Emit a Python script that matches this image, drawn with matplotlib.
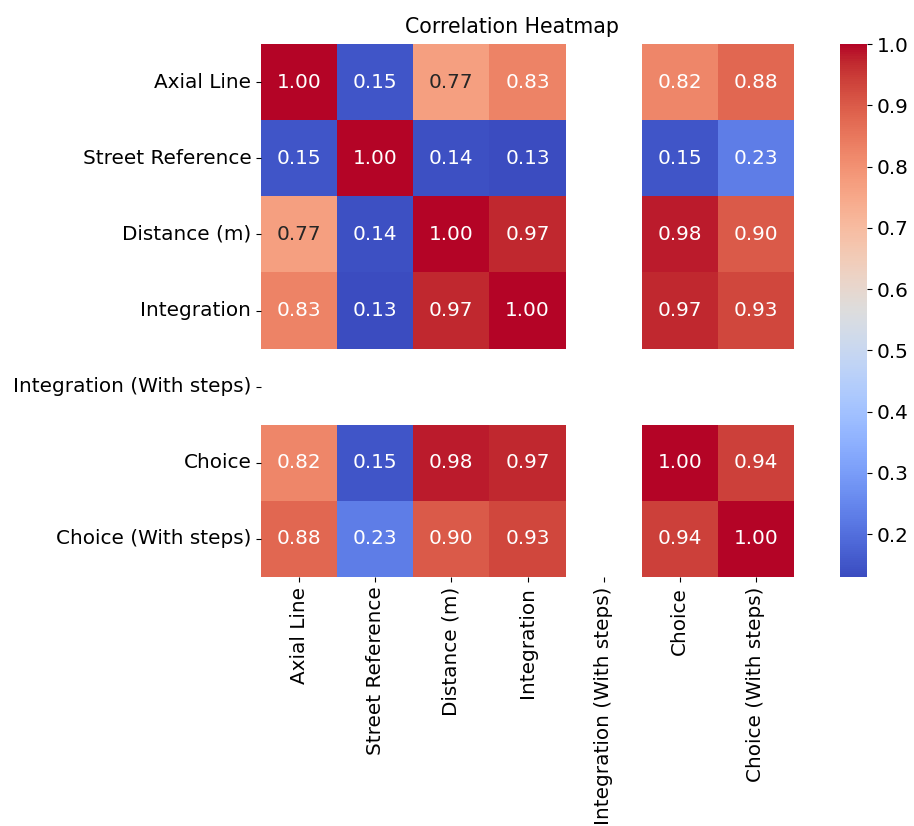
import numpy as np
import pandas as pd
import matplotlib
matplotlib.use("Agg")
import matplotlib.pyplot as plt
import seaborn as sns

labels = ["Axial Line", "Street Reference", "Distance (m)", "Integration",
          "Integration (With steps)", "Choice", "Choice (With steps)"]

nan = np.nan
axial = [1.00, 0.15, 0.77, 0.83, nan, 0.82, 0.88]
street = [0.15, 1.00, 0.14, 0.13, nan, 0.15, 0.23]
distance = [0.77, 0.14, 1.00, 0.97, nan, 0.98, 0.90]
integration = [0.83, 0.13, 0.97, 1.00, nan, 0.97, 0.93]
integration_steps = [nan, nan, nan, nan, nan, nan, nan]
choice = [0.82, 0.15, 0.98, 0.97, nan, 1.00, 0.94]
choice_steps = [0.88, 0.23, 0.90, 0.93, nan, 0.94, 1.00]

corr = pd.DataFrame(
    [axial, street, distance, integration, integration_steps, choice, choice_steps],
    index=labels, columns=labels,
)

fs = 14.4

fig = plt.figure(figsize=(9.14, 8.26), dpi=100)
W, H = 914, 826
ax = fig.add_axes([261 / W, 1 - 577 / H, (794 - 261) / W, (577 - 44) / H])
cax = fig.add_axes([840 / W, 1 - 577 / H, 27 / W, (577 - 44) / H])

sns.heatmap(corr, annot=True, fmt=".2f", cmap="coolwarm", ax=ax, cbar_ax=cax,
            annot_kws={"fontsize": fs})

ax.set_title("Correlation Heatmap", fontsize=14.8, x=(512 - 261) / (794 - 261), pad=8)
ax.tick_params(axis="both", labelsize=fs)
ax.set_yticklabels(labels, rotation=0)
ax.set_xticklabels(labels, rotation=90)
cax.tick_params(labelsize=fs)

fig.savefig("out.png", dpi=100)
